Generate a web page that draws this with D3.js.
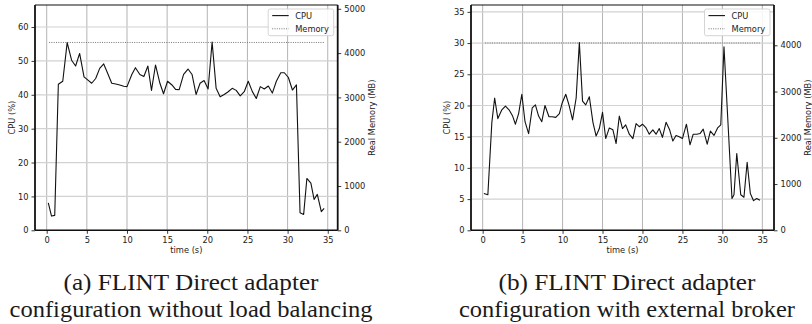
<!DOCTYPE html>
<html>
<head>
<meta charset="utf-8">
<script src="https://cdn.jsdelivr.net/npm/d3@7"></script>
<style>
  body { margin: 0; background: #fff; }
  svg { display: block; }
  .tick text { font-family: "DejaVu Sans", sans-serif; font-size: 8.3px; fill: #222; }
  .lbl { font-family: "DejaVu Sans", sans-serif; font-size: 8.3px; fill: #222; }
  .cap { font-family: "Liberation Serif", "Times New Roman", Times, serif; font-size: 22.5px; font-weight: normal; fill: #1a1a1a; }
</style>
</head>
<body>
<svg width="812" height="324"></svg>
<script>
// (a) without load balancing
var timeA = [0.2, 0.6, 1.0, 1.45, 2.0, 2.55, 3.1, 3.6, 4.1, 4.65, 5.1, 5.6, 6.1, 6.6, 7.1, 7.6, 8.1, 8.6, 9.1, 9.6,
             10.0, 10.6, 11.05, 11.6, 12.1, 12.6, 13.05, 13.55, 14.1, 14.55, 15.05, 15.6, 16.05, 16.5, 17.05, 17.6,
             18.1, 18.6, 19.1, 19.6, 20.1, 20.6, 21.1, 21.6, 22.1, 22.6, 23.1, 23.6, 24.1, 24.6, 25.1, 25.6, 26.1,
             26.6, 27.1, 27.6, 28.1, 28.6, 29.15, 29.6, 30.1, 30.6, 31.1, 31.55, 32.0, 32.4, 32.9, 33.3, 33.7, 34.2, 34.55];
var cpuA = [8.1, 4.2, 4.4, 43.1, 44.0, 55.4, 50.2, 48.5, 52.2, 45.3, 44.4, 43.4, 44.8, 47.8, 49.1, 46.3, 43.4, 43.2, 42.9, 42.5,
            42.4, 46.0, 48.0, 46.0, 45.4, 48.5, 41.3, 48.8, 43.4, 40.3, 44.0, 42.9, 41.6, 41.5, 46.0, 47.6,
            46.0, 40.1, 43.4, 44.2, 41.7, 55.6, 41.9, 39.4, 40.1, 40.9, 41.9, 41.3, 39.7, 40.9, 44.0, 41.0, 38.9,
            42.4, 41.7, 42.6, 40.5, 44.0, 46.5, 46.5, 45.1, 41.4, 42.9, 5.2, 4.7, 15.3, 13.9, 9.1, 10.6, 5.5, 6.5];
var memTimeA = [0.3, 34.6];
var memA = [4240, 4240];

// (b) with external broker
var timeB = [0.15, 0.65, 1.15, 1.5, 1.9, 2.4, 2.85, 3.3, 3.75, 4.1, 4.5, 4.9, 5.3, 5.75, 6.2, 6.6, 7.0, 7.4, 7.8, 8.3,
             8.7, 9.15, 9.6, 9.95, 10.4, 10.8, 11.25, 11.7, 12.1, 12.5, 12.9, 13.35, 13.8, 14.2, 14.6, 15.0, 15.4,
             15.85, 16.3, 16.7, 17.1, 17.5, 17.9, 18.35, 18.8, 19.2, 19.6, 20.0, 20.45, 20.85, 21.3, 21.7, 22.1,
             22.5, 22.95, 23.4, 23.8, 24.2, 24.6, 25.0, 25.5, 25.95, 26.35, 26.8, 27.2, 27.6, 28.1, 28.5, 28.95,
             29.4, 29.8, 30.2, 31.2, 31.45, 31.8, 32.3, 32.7, 33.1, 33.5, 33.9, 34.3, 34.7];
var cpuB = [5.9, 5.7, 17.3, 21.2, 17.9, 19.3, 19.9, 19.3, 18.3, 17.0, 18.7, 21.8, 17.4, 15.5, 19.6, 20.1, 18.3, 17.4, 20.0, 18.2,
            18.2, 18.1, 18.7, 20.4, 21.8, 20.1, 17.7, 21.2, 30.1, 20.7, 20.1, 21.4, 17.3, 15.1, 16.3, 18.9, 14.7,
            16.4, 16.1, 13.9, 18.3, 16.3, 16.9, 15.4, 14.7, 17.1, 16.6, 17.0, 16.4, 15.4, 16.1, 15.4, 16.3,
            14.9, 17.3, 16.1, 14.3, 15.2, 15.0, 14.7, 17.0, 13.7, 15.4, 15.4, 15.5, 16.2, 13.8, 15.9, 15.2,
            16.4, 16.9, 29.4, 5.1, 5.7, 12.3, 5.7, 5.3, 10.9, 5.9, 4.75, 5.1, 4.8];
var memTimeB = [0.3, 34.7];
var memB = [4050, 4050];

var timeTicks = [0, 5, 10, 15, 20, 25, 30, 35];
var cpuTicksA = [0, 10, 20, 30, 40, 50, 60];
var cpuTicksB = [0, 5, 10, 15, 20, 25, 30, 35];
var memTicksA = [0, 1000, 2000, 3000, 4000, 5000];
var memTicksB = [0, 1000, 2000, 3000, 4000];
var legendNames = ['CPU', 'Memory'];
var captionA = ['(a) FLINT Direct adapter', 'configuration without load balancing'];
var captionB = ['(b) FLINT Direct adapter', 'configuration with external broker'];

const svg = d3.select('svg');

function drawPanel(p) {
    var left = p.left, right = p.right, top = 5, bottom = 230.3;
    var xs = d3.scaleLinear().domain(p.xdom).range([left, right]);
    var ys = d3.scaleLinear().domain(p.cpuDom).range([bottom, top]);
    var ym = d3.scaleLinear().domain(p.memDom).range([bottom, top]);
    const g = svg.append('g');

    // grid
    g.append('g').selectAll('line').data(timeTicks).enter().append('line')
        .attr('x1', d => xs(d)).attr('x2', d => xs(d)).attr('y1', top).attr('y2', bottom)
        .attr('stroke', '#b4b4b4').attr('stroke-width', 1);
    g.append('g').selectAll('line').data(p.cpuTicks).enter().append('line')
        .attr('x1', left).attr('x2', right).attr('y1', d => ys(d)).attr('y2', d => ys(d))
        .attr('stroke', '#d2d2d2').attr('stroke-width', 1.2);

    // memory (dotted) and cpu line
    var mem = p.memTime.map((t, i) => [t, p.mem[i]]);
    g.append('path').datum(mem)
        .attr('d', d3.line().x(d => xs(d[0])).y(d => ym(d[1])))
        .attr('fill', 'none').attr('stroke', '#777').attr('stroke-width', 1)
        .attr('stroke-dasharray', '1,1.3');
    var cpu = p.time.map((t, i) => [t, p.cpu[i]]);
    g.append('path').datum(cpu)
        .attr('d', d3.line().x(d => xs(d[0])).y(d => ys(d[1])))
        .attr('fill', 'none').attr('stroke', '#111').attr('stroke-width', 1.1)
        .attr('stroke-linejoin', 'round');

    // axes
    g.append('g').attr('transform', `translate(0,${bottom})`)
        .call(d3.axisBottom(xs).tickValues(timeTicks).tickSize(3.5).tickPadding(3).tickFormat(d3.format('d')))
        .call(a => a.select('.domain').remove());
    g.append('g').attr('transform', `translate(${left},0)`)
        .call(d3.axisLeft(ys).tickValues(p.cpuTicks).tickSize(3.5).tickPadding(3).tickFormat(d3.format('d')))
        .call(a => a.select('.domain').remove());
    g.append('g').attr('transform', `translate(${right},0)`)
        .call(d3.axisRight(ym).tickValues(p.memTicks).tickSize(3.5).tickPadding(3).tickFormat(d3.format('d')))
        .call(a => a.select('.domain').remove());
    g.selectAll('.tick line').attr('stroke', '#222').attr('stroke-width', 0.9);

    // spines
    g.append('line').attr('x1', left).attr('x2', right).attr('y1', top).attr('y2', top)
        .attr('stroke', '#111').attr('stroke-width', 1.2);
    g.append('line').attr('x1', left).attr('x2', right).attr('y1', bottom).attr('y2', bottom)
        .attr('stroke', '#111').attr('stroke-width', 1.4);
    g.append('line').attr('x1', left).attr('x2', left).attr('y1', top).attr('y2', bottom)
        .attr('stroke', '#111').attr('stroke-width', 1.8);
    g.append('line').attr('x1', right).attr('x2', right).attr('y1', top).attr('y2', bottom)
        .attr('stroke', '#111').attr('stroke-width', 1.8);

    // labels
    g.append('text').attr('class', 'lbl').attr('text-anchor', 'middle')
        .attr('x', (left + right) / 2).attr('y', 253).text('time (s)');
    g.append('text').attr('class', 'lbl').attr('text-anchor', 'middle')
        .attr('transform', `translate(${p.cpuLabelX},${(top + bottom) / 2}) rotate(-90)`).text('CPU (%)');
    g.append('text').attr('class', 'lbl').attr('text-anchor', 'middle')
        .attr('transform', `translate(${p.memLabelX},${(top + bottom) / 2}) rotate(-90)`).text('Real Memory (MB)');

    // legend
    var lw = 65.5, lh = 26.7, lx = right - 4 - lw, ly = top + 4;
    const legend = g.append('g').attr('transform', `translate(${lx},${ly})`);
    legend.append('rect').attr('width', lw).attr('height', lh).attr('rx', 2)
        .attr('fill', '#fff').attr('fill-opacity', 0.85).attr('stroke', '#d0d0d0').attr('stroke-width', 0.9);
    legendNames.forEach((name, i) => {
        var cy = 6.6 + i * 13.2;
        legend.append('line').attr('x1', 4).attr('x2', 20.5).attr('y1', cy).attr('y2', cy)
            .attr('stroke', i === 0 ? '#111' : '#777').attr('stroke-width', i === 0 ? 1.1 : 1)
            .attr('stroke-dasharray', i === 0 ? null : '1,1.3');
        legend.append('text').attr('class', 'lbl').attr('x', 27).attr('y', cy + 3).text(name);
    });

    // caption
    p.caption.forEach((line, i) => {
        g.append('text').attr('class', 'cap').attr('text-anchor', 'middle')
            .attr('x', p.capX).attr('y', 290 + i * 26.7)
            .attr('textLength', p.capW[i]).attr('lengthAdjust', 'spacingAndGlyphs')
            .text(line);
    });
}

drawPanel({
    left: 35, right: 337.7, xdom: [-1.457, 36.24],
    cpuDom: [0, 66.5], memDom: [0, 5086],
    cpuTicks: cpuTicksA, memTicks: memTicksA,
    time: timeA, cpu: cpuA, memTime: memTimeA, mem: memA,
    cpuLabelX: 14.5, memLabelX: 375,
    caption: captionA, capX: 191, capW: [255, 363]
});

drawPanel({
    left: 471, right: 774, xdom: [-1.46, 36.46],
    cpuDom: [0, 36.1], memDom: [0, 4871],
    cpuTicks: cpuTicksB, memTicks: memTicksB,
    time: timeB, cpu: cpuB, memTime: memTimeB, mem: memB,
    cpuLabelX: 450, memLabelX: 811,
    caption: captionB, capX: 627, capW: [257, 336]
});
</script>
</body>
</html>
